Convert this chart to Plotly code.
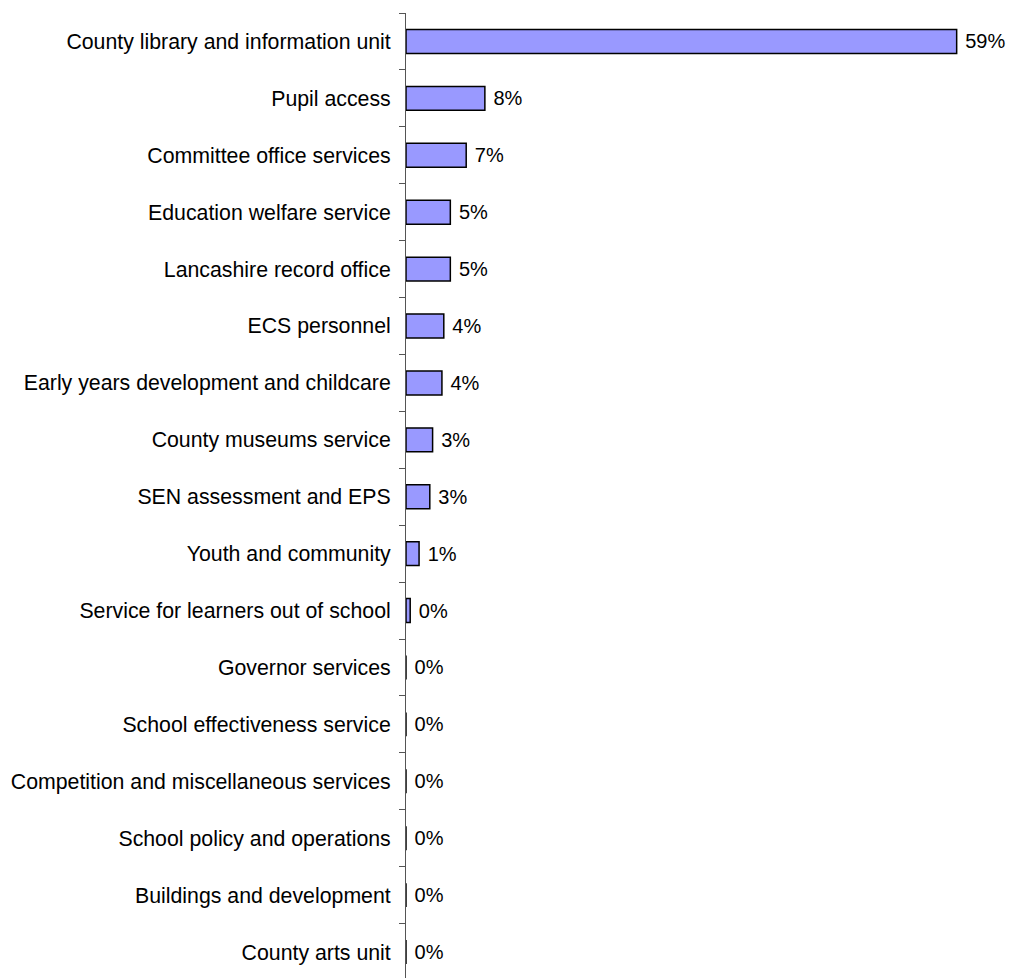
import plotly.graph_objects as go

categories = [
    "County library and information unit",
    "Pupil access",
    "Committee office services",
    "Education welfare service",
    "Lancashire record office",
    "ECS personnel",
    "Early years development and childcare",
    "County museums service",
    "SEN assessment and EPS",
    "Youth and community",
    "Service for learners out of school",
    "Governor services",
    "School effectiveness service",
    "Competition and miscellaneous services",
    "School policy and operations",
    "Buildings and development",
    "County arts unit",
]
values = [59.0, 8.45, 6.45, 4.75, 4.75, 4.05, 3.85, 2.85, 2.55, 1.4, 0.45, 0, 0, 0, 0, 0, 0]
labels = ["59%", "8%", "7%", "5%", "5%", "4%", "4%", "3%", "3%", "1%", "0%", "0%", "0%", "0%", "0%", "0%", "0%"]

fig = go.Figure(
    go.Bar(
        x=values,
        y=categories,
        orientation="h",
        text=labels,
        texttemplate=" %{text}",
        textposition="outside",
        cliponaxis=False,
        width=0.42,
        marker=dict(color="#9999FF", line=dict(color="black", width=1.5)),
        textfont=dict(family="Liberation Sans, Arial, sans-serif", size=20, color="black"),
        hoverinfo="skip",
    )
)

fig.update_layout(
    width=1010,
    height=978,
    margin=dict(l=406, r=44, t=13, b=0),
    paper_bgcolor="white",
    plot_bgcolor="white",
    showlegend=False,
    font=dict(family="Liberation Sans, Arial, sans-serif", size=21, color="black"),
    uniformtext=dict(mode=False),
)
fig.update_xaxes(range=[0, 60], visible=False)
fig.update_yaxes(
    type="category",
    categoryorder="array",
    categoryarray=categories,
    range=[16.456, -0.5],
    showline=True,
    linecolor="#555555",
    linewidth=1,
    ticks="outside",
    tickson="boundaries",
    ticklen=6,
    tickcolor="#555555",
    ticklabelstandoff=10,
    showgrid=False,
    zeroline=False,
    tickfont=dict(family="Liberation Sans, Arial, sans-serif", size=21.3, color="black"),
)

fig.write_html("out.html")
